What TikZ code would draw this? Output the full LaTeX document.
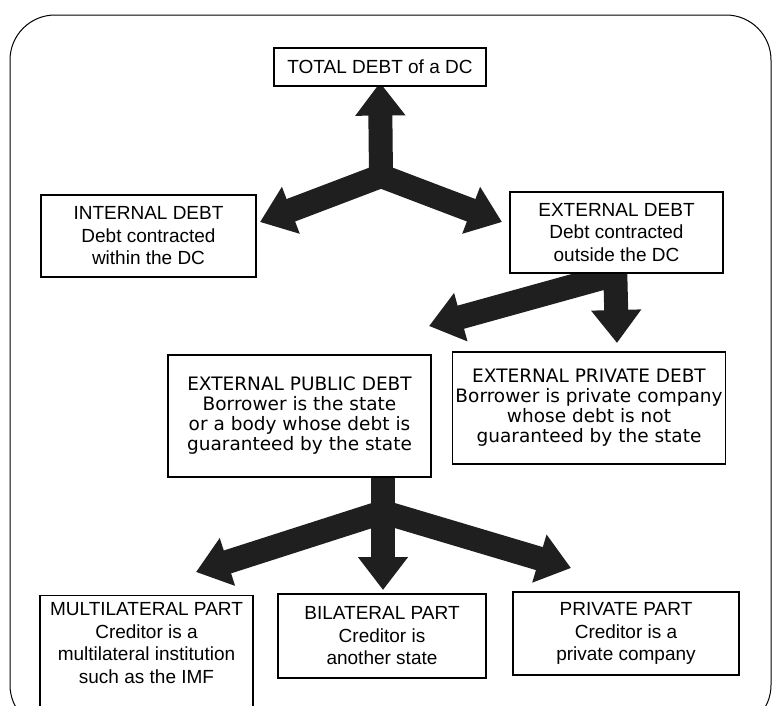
\documentclass[tikz,border=0pt]{standalone}
\usepackage{fontspec}
\setmainfont{Liberation Sans}
\newfontfamily\widesans{DejaVu Sans}
\usetikzlibrary{arrows.meta,backgrounds}

\begin{document}
\begin{tikzpicture}[x=1pt, y=-1pt,
		b/.style = {rectangle, draw, fill=white, line width=1.1pt, align=center, inner sep=3pt, font=\fontsize{19}{22.5}\selectfont},
		bw/.style = {b, font=\widesans\fontsize{18.5}{20}\selectfont},
		r/.style = {line width=24pt, draw=black!88, line join=miter},
		>={Triangle[width=48pt, length=33pt]}
		]
		\useasboundingbox (0,0) rectangle (776,705);

		%Frame
		\draw[line width=1pt, rounded corners=45pt] (10,15) rectangle (771,730);

		%Nodes
		\node[b, minimum width=212pt, minimum height=38pt]	(total)	at	(380,67)	{TOTAL DEBT of a DC};
		\node[b, minimum width=215pt, minimum height=82pt]	(int)	at	(148.5,236)	{INTERNAL DEBT\\Debt contracted\\within the DC};
		\node[b, minimum width=213pt, minimum height=81pt]	(ext)	at	(616.5,232.5)	{EXTERNAL DEBT\\Debt contracted\\outside the DC};
		\node[bw, minimum width=263pt, minimum height=122pt]	(pub)	at	(299.5,416)	{EXTERNAL PUBLIC DEBT\\Borrower is the state\\or a body whose debt is\\guaranteed by the state};
		\node[bw, minimum width=272pt, minimum height=112pt]	(priv)	at	(589,408)	{EXTERNAL PRIVATE DEBT\\Borrower is private company\\whose debt is not\\guaranteed by the state};
		\node[b, minimum width=213pt, anchor=north, inner ysep=7pt, text depth=100pt]	(multi)	at	(146.5,595)	{MULTILATERAL PART\\Creditor is a\\multilateral institution\\such as the IMF};
		\node[b, minimum width=208pt, minimum height=84pt]	(bil)	at	(382,636)	{BILATERAL PART\\Creditor is\\another state};
		\node[b, minimum width=226pt, minimum height=83pt]	(privp)	at	(626,633.5)	{PRIVATE PART\\Creditor is a\\private company};

		%Junctions and tips
		\coordinate	(jt)	at	(381,176);
		\coordinate	(tint)	at	(260,222);
		\coordinate	(text)	at	(502,222);
		\coordinate	(je)	at	(615,262);
		\coordinate	(jl)	at	(613,275);
		\coordinate	(tpub)	at	(429,326);
		\coordinate	(tpriv)	at	(617,343);
		\coordinate	(jp)	at	(383,470);
		\coordinate	(jb)	at	(383,512);
		\coordinate	(tmul)	at	(196,572);
		\coordinate	(tbil)	at	(383,590);
		\coordinate	(tprp)	at	(571,568);

		%Arrows
		\begin{scope}[on background layer]
			\draw[r, ->]	(jt)	--	([yshift=4pt]total.south);
			\draw[r, <->]	(tint)	--	(jt)	--	(text);
			\draw[r, ->]	(je)	--	(tpriv);
			\draw[r, ->]	(jl)	--	(tpub);
			\draw[r, <->]	(tmul)	--	(jb)	--	(tprp);
			\draw[r, ->]	(jp)	--	(tbil);
		\end{scope}
	\end{tikzpicture}
\end{document}
